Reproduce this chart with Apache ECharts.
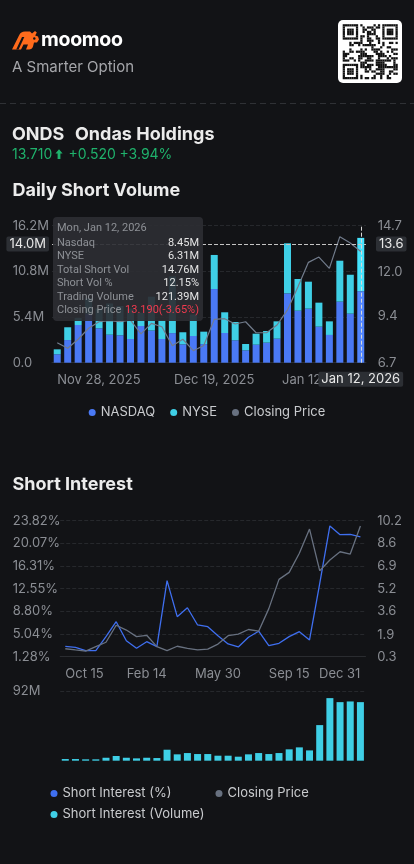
<!DOCTYPE html>
<html><head><meta charset="utf-8">
<script src="https://cdn.jsdelivr.net/npm/echarts@6/dist/echarts.min.js"></script>
<style>
html,body{margin:0;padding:0;background:#121316;}
#wrap{position:relative;width:414px;height:864px;overflow:hidden;background:#121316;}
#chart{position:absolute;left:0;top:0;width:414px;height:864px;}
#head{position:absolute;left:0;top:0;pointer-events:none;}
</style></head>
<body>
<div id="wrap"><div id="chart"></div><svg id="head" width="414" height="864" xmlns="http://www.w3.org/2000/svg"></svg></div>
<script>
// ---------- Daily short volume ----------
const dailyDates = ['Nov 28, 2025','Dec 1, 2025','Dec 2, 2025','Dec 3, 2025','Dec 4, 2025','Dec 5, 2025','Dec 8, 2025','Dec 9, 2025','Dec 10, 2025','Dec 11, 2025','Dec 12, 2025','Dec 15, 2025','Dec 16, 2025','Dec 17, 2025','Dec 18, 2025','Dec 19, 2025','Dec 22, 2025','Dec 23, 2025','Dec 24, 2025','Dec 26, 2025','Dec 29, 2025','Dec 30, 2025','Dec 31, 2025','Jan 2, 2026','Jan 5, 2026','Jan 6, 2026','Jan 7, 2026','Jan 8, 2026','Jan 9, 2026','Jan 12, 2026'];
const nasdaq = [1.00, 2.68, 4.46, 5.80, 4.07, 3.31, 3.24, 2.80, 4.34, 3.80, 2.80, 3.50, 2.17, 3.16, 2.20, 8.71, 3.51, 2.65, 1.46, 2.13, 2.37, 2.84, 8.20, 6.15, 6.39, 4.26, 3.28, 7.22, 5.80, 8.45];
const nyse   = [0.58, 1.51, 0.84, 1.80, 2.33, 3.69, 3.46, 3.60, 1.56, 4.00, 2.20, 6.70, 1.43, 2.54, 1.47, 4.03, 2.45, 2.16, 0.75, 1.30, 1.38, 2.05, 5.92, 3.75, 3.19, 2.84, 1.61, 4.84, 4.60, 6.31];
const dailyClose = [7.87, 7.54, 8.07, 8.71, 9.09, 9.15, 9.09, 9.19, 8.38, 9.00, 8.80, 7.69, 8.07, 7.40, 7.70, 9.23, 9.27, 8.96, 9.09, 8.45, 8.45, 8.90, 9.78, 11.14, 12.56, 12.87, 12.21, 14.06, 13.69, 13.19];
const dailyLeftTicks = [0, 5.4, 10.8, 16.2];
const dailyRightTicks = [6.7, 9.4, 12.0, 14.7];
const dailyLabelIdx = [0, 15, 29];

// tooltip facts (Jan 12, 2026)
const tipIndex = 29;
const tipShortVolPct = 12.15;
const tipTradingVolume = 121.39;
const tipChangePct = -3.65;
const tipPointerValue = 14.04;

// ---------- Short interest ----------
const siDates = ['Oct 15, 2024','Oct 31, 2024','Nov 15, 2024','Nov 29, 2024','Dec 13, 2024','Dec 31, 2024','Jan 15, 2025','Jan 31, 2025','Feb 14, 2025','Feb 28, 2025','Mar 14, 2025','Mar 31, 2025','Apr 15, 2025','Apr 30, 2025','May 15, 2025','May 30, 2025','Jun 13, 2025','Jun 30, 2025','Jul 15, 2025','Jul 31, 2025','Aug 15, 2025','Aug 29, 2025','Sep 15, 2025','Sep 30, 2025','Oct 15, 2025','Oct 31, 2025','Nov 14, 2025','Nov 28, 2025','Dec 15, 2025','Dec 31, 2025'];
const siPct   = [3.00, 2.84, 2.28, 2.28, 4.60, 7.08, 3.93, 2.67, 3.77, 2.94, 13.88, 7.91, 9.40, 6.54, 6.25, 4.75, 3.39, 2.90, 4.50, 5.50, 3.10, 3.50, 4.60, 5.43, 4.05, 13.40, 22.95, 21.50, 21.57, 21.12];
const siClose = [0.88, 0.79, 0.71, 1.03, 1.35, 2.59, 2.24, 1.76, 1.86, 1.03, 0.74, 1.06, 0.91, 0.79, 0.85, 1.22, 1.83, 1.94, 2.28, 2.16, 3.80, 5.93, 6.44, 7.83, 9.59, 6.56, 7.34, 7.94, 7.77, 9.81];
const siVol   = [2.2, 2.2, 1.8, 1.8, 3.9, 6.2, 3.9, 3.1, 3.9, 3.5, 14.5, 8.4, 10.1, 8.8, 8.8, 6.6, 6.6, 5.3, 8.4, 10.1, 8.8, 10.1, 15.0, 17.6, 13.6, 47.0, 82.6, 77.3, 78.2, 77.3];
const siLeftTicks = [1.28, 5.04, 8.80, 12.55, 16.31, 20.07, 23.82];
const siRightTicks = [0.3, 1.9, 3.6, 5.2, 6.9, 8.6, 10.2];
const siVolTicks = [92];
const siLabelIdx = [0, 8, 15, 22, 29];

const FONT = "Inter, 'Noto Sans', sans-serif";
const TIP_FONT = "Roboto, 'Noto Sans', sans-serif";
const C = {
  bg: '#121316', nasdaq: '#4a79f5', nyse: '#3fcfe6', price: '#687180', siLine: '#3f6ff0',
  axisText: '#8b8e94', grid: '#26282c', legend: '#c9cbce', title: '#ececec'
};

// ---------- header and section titles (svg text) ----------
(function buildHeader() {
  const svg = document.getElementById('head');
  let s = '';
  s += '<g transform="translate(12,30.5)">'
     + '<path d="M0,19 L7,5 C8.5,2 10,1 13,1 L18,1 L20,3 L23,0.5 L24.8,2 L23.2,5 L26,6 L27,9 L25,12 L22,12 L21,16 C20.5,18 19,19 17,19 L14,19 L16,14 L11.5,14 L9,19 Z" fill="#ff6b1c"/>'
     + '<path d="M4.2,19 L10,6.5 L12.3,6.5 L6.6,19 Z" fill="#121316"/>'
     + '<circle cx="22.3" cy="8" r="1.2" fill="#121316"/>'
     + '</g>';
  s += `<text x="41" y="45.7" font-family="${FONT}" font-size="19.5" font-weight="700" fill="#ffffff" letter-spacing="-0.3">moomoo</text>`;
  s += `<text x="12" y="71.7" font-family="${FONT}" font-size="15" fill="#a5a6aa">A Smarter Option</text>`;
  s += '<rect x="338" y="20" width="64" height="63" rx="5" fill="#ffffff"/>';
  const n = 25, m = 2.2, ox = 342.7, oy = 24.2;
  let seed = 7;
  const finder = (r, c) => {
    const inF = (r0, c0) => r >= r0 && r < r0 + 7 && c >= c0 && c < c0 + 7;
    for (const [r0, c0] of [[0,0],[0,n-7],[n-7,0]]) {
      if (inF(r0, c0)) {
        const rr = r - r0, cc = c - c0;
        if (rr === 0 || rr === 6 || cc === 0 || cc === 6) return 1;
        if (rr >= 2 && rr <= 4 && cc >= 2 && cc <= 4) return 1;
        return 0;
      }
    }
    if ((r === 7 && (c < 8 || c >= n-8)) || (c === 7 && (r < 8 || r >= n-8)) || (r === n-8 && c < 8) || (c === n-8 && r < 8)) return 0;
    return -1;
  };
  for (let r = 0; r < n; r++) for (let c = 0; c < n; c++) {
    let f = finder(r, c);
    seed = (seed * 1103515245 + 12345) & 0x7fffffff;
    if (f === -1) f = ((seed >> 13) & 3) < 2 ? 1 : 0;
    if (f) s += `<rect x="${(ox + c*m).toFixed(2)}" y="${(oy + r*m).toFixed(2)}" width="${m+0.05}" height="${m+0.05}" fill="#111"/>`;
  }
  s += '<line x1="0" y1="103.5" x2="414" y2="103.5" stroke="#2f3135" stroke-width="1" stroke-dasharray="6 4"/>';
  s += `<text x="12" y="140" font-family="${FONT}" font-size="18" font-weight="700" fill="#ebebeb">ONDS</text>`;
  s += `<text x="75" y="140" font-family="${FONT}" font-size="18" font-weight="700" fill="#ebebeb">Ondas Holdings</text>`;
  s += `<text x="12" y="159.3" font-family="${FONT}" font-size="14" fill="#1fb26c">13.710</text>`;
  s += '<path d="M59,149.3 L62.6,153.6 L60.4,153.6 L60.4,159 L57.6,159 L57.6,153.6 L55.4,153.6 Z" fill="#1fb26c"/>';
  s += `<text x="68.5" y="159.3" font-family="${FONT}" font-size="14" fill="#1fb26c">+0.520</text>`;
  s += `<text x="119.5" y="159.3" font-family="${FONT}" font-size="14" fill="#1fb26c">+3.94%</text>`;
  s += `<text x="12.5" y="195.5" font-family="${FONT}" font-size="18" font-weight="700" fill="${C.title}">Daily Short Volume</text>`;
  s += `<text x="12.5" y="490" font-family="${FONT}" font-size="18" font-weight="700" fill="${C.title}">Short Interest</text>`;
  svg.innerHTML = s;
})();

// ---------- chart ----------
const chart = echarts.init(document.getElementById('chart'), null, {renderer: 'canvas'});
const axisLabelBase = {color: C.axisText, fontSize: 13, fontFamily: FONT};
const pointerLabel = {backgroundColor: '#2c2f34', color: '#e8e8e8', fontSize: 13, fontFamily: FONT, padding: [1, 3, 1, 3], borderRadius: 2, shadowBlur: 0};
const legendText = {color: C.legend, fontSize: 13, fontFamily: FONT};

function tipHtml() {
  const i = tipIndex;
  const d = new Date(dailyDates[i]);
  const wk = ['Sun','Mon','Tue','Wed','Thu','Fri','Sat'][d.getDay()];
  const row = (k, v, c) => `<div style="display:flex;justify-content:space-between;height:13.5px;line-height:13.5px"><span style="color:#8e9196">${k}</span><span style="color:${c || '#e4e4e4'}">${v}</span></div>`;
  return `<div style="width:142px;font-family:${TIP_FONT};font-size:11px;">`
    + `<div style="color:#8e9196;height:14.5px;line-height:14.5px">${wk}, ${dailyDates[i]}</div>`
    + row('Nasdaq', nasdaq[i].toFixed(2) + 'M')
    + row('NYSE', nyse[i].toFixed(2) + 'M')
    + row('Total Short Vol', (nasdaq[i] + nyse[i]).toFixed(2) + 'M')
    + row('Short Vol %', tipShortVolPct.toFixed(2) + '%')
    + row('Trading Volume', tipTradingVolume.toFixed(2) + 'M')
    + row('Closing Price', dailyClose[i].toFixed(3) + '(' + tipChangePct.toFixed(2) + '%)', '#f23a4f')
    + '</div>';
}

const option = {
  backgroundColor: C.bg,
  animation: false,
  textStyle: {fontFamily: FONT},
  legend: [
    {data: ['NASDAQ', 'NYSE', 'Closing Price'], left: 'center', top: 406, icon: 'circle', itemWidth: 7, itemHeight: 7, itemGap: 15, padding: 0, textStyle: legendText},
    {data: ['Short Interest (%)', 'Closing Price'], left: 50.5, top: 787, icon: 'circle', itemWidth: 7, itemHeight: 7, itemGap: 44, padding: 0, textStyle: legendText},
    {data: ['Short Interest (Volume)'], left: 50.5, top: 808, icon: 'circle', itemWidth: 7, itemHeight: 7, padding: 0, textStyle: legendText}
  ],
  grid: [
    {left: 52, top: 225.7, width: 314, height: 137},
    {left: 60.2, top: 520.7, width: 305.3, height: 136},
    {left: 60.2, top: 691, width: 305.3, height: 69.7}
  ],
  tooltip: {
    trigger: 'axis', alwaysShowContent: true, transitionDuration: 0, showDelay: 0, hideDelay: 0,
    axisPointer: {
      type: 'cross',
      lineStyle: {color: '#d8d8d8', type: 'dashed', width: 1},
      crossStyle: {color: '#c4c4c4', type: 'dashed', width: 1},
      label: pointerLabel
    },
    backgroundColor: 'rgba(44,46,51,0.92)', borderWidth: 0, padding: [4, 4, 4, 4],
    extraCssText: 'box-shadow:none;border-radius:4px;',
    position: [52.5, 217],
    formatter: tipHtml
  },
  xAxis: [
    {gridIndex: 0, type: 'category', data: dailyDates,
      axisLine: {lineStyle: {color: '#2a2c30'}}, axisTick: {show: false},
      axisLabel: Object.assign({}, axisLabelBase, {margin: 11, interval: (i) => dailyLabelIdx.includes(i), alignMinLabel: 'left', alignMaxLabel: 'right'}),
      axisPointer: {label: Object.assign({}, pointerLabel, {margin: 9})}},
    {gridIndex: 1, type: 'category', data: siDates,
      axisLine: {lineStyle: {color: '#2a2c30'}}, axisTick: {show: false},
      axisLabel: Object.assign({}, axisLabelBase, {margin: 11, interval: (i) => siLabelIdx.includes(i), alignMinLabel: 'left', alignMaxLabel: 'right', formatter: (v) => v.split(',')[0]})},
    {gridIndex: 2, type: 'category', data: siDates,
      axisLine: {show: false}, axisTick: {show: false}, axisLabel: {show: false}}
  ],
  yAxis: [
    {gridIndex: 0, type: 'value', position: 'left', min: dailyLeftTicks[0], max: dailyLeftTicks[dailyLeftTicks.length - 1], interval: dailyLeftTicks[1] - dailyLeftTicks[0],
      axisLabel: Object.assign({}, axisLabelBase, {align: 'left', margin: 39.3, formatter: (v) => v === 0 ? '0.0' : v.toFixed(1) + 'M'}),
      splitLine: {lineStyle: {color: C.grid, type: 'dashed'}}, axisLine: {show: false}, axisTick: {show: false},
      axisPointer: {label: Object.assign({}, pointerLabel, {formatter: (p) => p.value.toFixed(1) + 'M'})}},
    {gridIndex: 0, type: 'value', position: 'right', min: dailyRightTicks[0], max: dailyRightTicks[dailyRightTicks.length - 1],
      axisLabel: Object.assign({}, axisLabelBase, {margin: 11.7, customValues: dailyRightTicks, formatter: (v) => v.toFixed(1)}),
      axisTick: {show: false, customValues: dailyRightTicks}, splitLine: {show: false}, axisLine: {show: false},
      axisPointer: {label: Object.assign({}, pointerLabel, {margin: 10, formatter: (p) => p.value.toFixed(1)})}},
    {gridIndex: 1, type: 'value', position: 'left', min: siLeftTicks[0], max: siLeftTicks[siLeftTicks.length - 1],
      axisLabel: Object.assign({}, axisLabelBase, {align: 'left', margin: 47.5, customValues: siLeftTicks, formatter: (v) => v.toFixed(2) + '%'}),
      axisTick: {show: false, customValues: siLeftTicks},
      splitLine: {lineStyle: {color: C.grid, type: 'dashed'}}, axisLine: {show: false}},
    {gridIndex: 1, type: 'value', position: 'right', min: siRightTicks[0], max: siRightTicks[siRightTicks.length - 1],
      axisLabel: Object.assign({}, axisLabelBase, {margin: 11.7, customValues: siRightTicks, formatter: (v) => v.toFixed(1)}),
      axisTick: {show: false, customValues: siRightTicks}, splitLine: {show: false}, axisLine: {show: false}},
    {gridIndex: 2, type: 'value', position: 'left', min: 0, max: siVolTicks[0],
      axisLabel: Object.assign({}, axisLabelBase, {align: 'left', margin: 47.5, customValues: siVolTicks, formatter: (v) => v + 'M'}),
      axisTick: {show: false, customValues: siVolTicks},
      splitLine: {lineStyle: {color: C.grid, type: 'dashed'}}, axisLine: {show: false}}
  ],
  series: [
    {name: 'NASDAQ', type: 'bar', xAxisIndex: 0, yAxisIndex: 0, stack: 'sv', data: nasdaq, barWidth: 7, itemStyle: {color: C.nasdaq}},
    {name: 'NYSE', type: 'bar', xAxisIndex: 0, yAxisIndex: 0, stack: 'sv', data: nyse, barWidth: 7, itemStyle: {color: C.nyse}},
    {name: 'Closing Price', type: 'line', xAxisIndex: 0, yAxisIndex: 1, data: dailyClose, symbol: 'none', z: 5,
      lineStyle: {color: C.price, width: 1.2}, itemStyle: {color: C.price}},
    {name: 'Short Interest (%)', type: 'line', xAxisIndex: 1, yAxisIndex: 2, data: siPct, symbol: 'none',
      lineStyle: {color: C.siLine, width: 1.3}, itemStyle: {color: C.siLine}},
    {name: 'Closing Price', type: 'line', xAxisIndex: 1, yAxisIndex: 3, data: siClose, symbol: 'none',
      lineStyle: {color: C.price, width: 1.3}, itemStyle: {color: C.price}},
    {name: 'Short Interest (Volume)', type: 'bar', xAxisIndex: 2, yAxisIndex: 4, data: siVol, barWidth: 7, itemStyle: {color: C.nyse}}
  ]
};
chart.setOption(option);

function showTip() {
  const px = chart.convertToPixel({xAxisIndex: 0}, dailyDates[tipIndex]);
  const py = chart.convertToPixel({yAxisIndex: 0}, tipPointerValue);
  chart.dispatchAction({type: 'showTip', x: px, y: py});
}
showTip();
setTimeout(showTip, 50);
</script>
</body></html>
